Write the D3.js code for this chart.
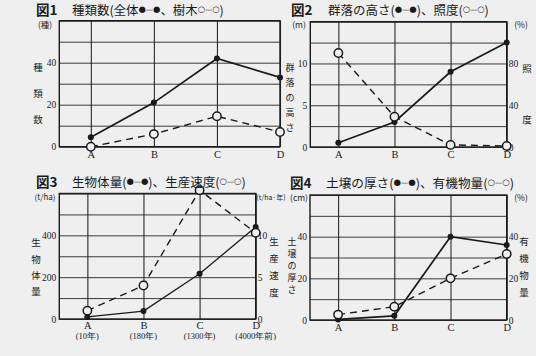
<!DOCTYPE html>
<html><head><meta charset="utf-8">
<script src="https://cdn.jsdelivr.net/npm/d3@7"></script>
<style>
html,body{margin:0;padding:0;background:#efefef;}
svg{display:block;}
</style></head>
<body><svg id="c" width="536" height="356"></svg>
<script>
// ---- data ----
const categories = ["A", "B", "C", "D"];
const fig3SubLabels = ["(10年)", "(180年)", "(1300年)", "(4000年前)"];

const fig1Total = [4.5, 21, 42, 33];
const fig1Trees = [0, 6, 14.5, 7];
const fig2Height = [0.5, 3, 9, 12.5];
const fig2Light = [90, 29, 2, 1];
const fig3Biomass = [10, 38, 216, 440];
const fig3Production = [1, 4, 15.4, 10.3];
const fig4Soil = [0.3, 2, 40, 36];
const fig4Organic = [2.6, 6.4, 20, 31.7];

const fig1Ticks = [0, 20, 40];
const fig2LeftTicks = [0, 5, 10];
const fig2RightTicks = [0, 40, 80];
const fig3LeftTicks = [0, 200, 400];
const fig3RightTicks = [0, 5, 10];
const fig4LeftTicks = [0, 20, 40];
const fig4RightTicks = [0, 20, 40];

const titles = [
  ["図1", "種類数(全体●—●、樹木○—○)"],
  ["図2", "群落の高さ(●—●)、照度(○—○)"],
  ["図3", "生物体量(●—●)、生産速度(○—○)"],
  ["図4", "土壌の厚さ(●—●)、有機物量(○—○)"]
];

// ---- drawing ----
const svg = d3.select("#c");
const JP = "'Noto Sans CJK JP', 'Noto Sans', sans-serif";
const SERIF = "'Liberation Serif', 'DejaVu Serif', serif";
const INK = "#1a1a1a";
const BG = "#efefef";

svg.append("rect").attr("width", 536).attr("height", 356).attr("fill", BG);

function panel(cfg) {
  const g = svg.append("g");
  const x = d3.scaleLinear().domain([-0.5, 3]).range([cfg.x0, cfg.x1]);
  const yL = d3.scaleLinear().domain(cfg.leftDomain).range([cfg.y1, cfg.y0]);
  const yR = cfg.rightDomain ? d3.scaleLinear().domain(cfg.rightDomain).range([cfg.y1, cfg.y0]) : yL;
  const W = cfg.x1 - cfg.x0;

  // horizontal grid
  const gridVals = d3.range(cfg.leftDomain[0], cfg.leftDomain[1] + 1e-9, (cfg.leftDomain[1] - cfg.leftDomain[0]) / 6);
  g.append("g").attr("transform", `translate(${cfg.x0},0)`)
    .call(d3.axisLeft(yL).tickValues(gridVals).tickSize(-W).tickFormat(""))
    .call(a => { a.select(".domain").remove(); a.selectAll("line").attr("stroke", "#3a3a3a").attr("stroke-width", 1); });
  // vertical grid
  g.append("g").attr("transform", `translate(0,${cfg.y1})`)
    .call(d3.axisBottom(x).tickValues([0, 1, 2, 3]).tickSize(-(cfg.y1 - cfg.y0)).tickFormat(""))
    .call(a => { a.select(".domain").remove(); a.selectAll("line").attr("stroke", "#2a2a2a").attr("stroke-width", 1.1); });
  // frame
  g.append("rect").attr("x", cfg.x0).attr("y", cfg.y0).attr("width", W).attr("height", cfg.y1 - cfg.y0)
    .attr("fill", "none").attr("stroke", INK).attr("stroke-width", 1.4);

  // left ticks
  g.append("g").attr("transform", `translate(${cfg.x0},0)`)
    .call(d3.axisLeft(yL).tickValues(cfg.leftTicks).tickSize(0).tickPadding(3))
    .call(a => { a.select(".domain").remove(); a.selectAll("text").attr("font-family", SERIF).attr("font-size", 9.5).attr("fill", INK); });
  if (cfg.rightTicks) {
    g.append("g").attr("transform", `translate(${cfg.x1},0)`)
      .call(d3.axisRight(yR).tickValues(cfg.rightTicks).tickSize(0).tickPadding(2))
      .call(a => { a.select(".domain").remove(); a.selectAll("text").attr("font-family", SERIF).attr("font-size", 9.5).attr("fill", INK); });
  }
  // category labels
  g.append("g").attr("transform", `translate(0,${cfg.y1})`)
    .call(d3.axisBottom(x).tickValues([0, 1, 2, 3]).tickSize(0).tickPadding(cfg.subLabels ? 3 : 4).tickFormat(i => categories[i]))
    .call(a => { a.select(".domain").remove(); a.selectAll("text").attr("font-family", SERIF).attr("font-size", 10.5).attr("fill", INK); });
  if (cfg.subLabels) {
    cfg.subLabels.forEach((s, i) => {
      g.append("text").attr("x", x(i)).attr("y", cfg.y1 + 20).attr("text-anchor", "middle")
        .attr("font-family", SERIF).attr("font-size", 8.5).attr("fill", INK).text(s);
    });
  }

  // open series (dashed)
  const lineO = d3.line().x((d, i) => x(i)).y(d => yR(d));
  g.append("path").datum(cfg.open).attr("d", lineO).attr("fill", "none")
    .attr("stroke", INK).attr("stroke-width", 1.4).attr("stroke-dasharray", "7,5");
  // filled series
  const lineF = d3.line().x((d, i) => x(i)).y(d => yL(d));
  g.append("path").datum(cfg.filled).attr("d", lineF).attr("fill", "none")
    .attr("stroke", INK).attr("stroke-width", cfg.fw || 1.7);
  g.selectAll(null).data(cfg.filled).enter().append("circle")
    .attr("cx", (d, i) => x(i)).attr("cy", d => yL(d)).attr("r", 3).attr("fill", INK);
  g.selectAll(null).data(cfg.open).enter().append("circle")
    .attr("cx", (d, i) => x(i)).attr("cy", d => yR(d)).attr("r", 4.2)
    .attr("fill", BG).attr("stroke", INK).attr("stroke-width", 1.5);

  // titles
  g.append("text").attr("x", cfg.tx).attr("y", cfg.ty).attr("font-family", JP).attr("font-weight", "bold")
    .attr("font-size", 13.5).attr("fill", INK).text(cfg.title[0]);
  const tt = g.append("text").attr("x", cfg.tx2).attr("y", cfg.ty).attr("font-family", JP)
    .attr("font-size", 12.5).attr("fill", INK);
  // split title into normal runs and small symbol runs (symbols raised to mid-height)
  const parts = cfg.title[1].match(/[●○—]+|[^●○—]+/g);
  const SHIFT = 3;
  let raised = false;
  parts.forEach(p => {
    if (/[●○—]/.test(p)) {
      Array.from(p).forEach(ch => {
        const ts = tt.append("tspan").attr("font-family", "'DejaVu Sans', sans-serif");
        ts.attr("dy", raised ? 0 : -SHIFT);
        raised = true;
        if (ch === "—") ts.attr("font-size", 7).text("—");
        else ts.attr("font-size", 8.5).text(ch);
      });
    } else {
      tt.append("tspan").attr("font-size", 12.5).attr("dy", raised ? SHIFT : 0).text(p);
      raised = false;
    }
  });
  const natural = tt.node().getComputedTextLength();
  tt.attr("transform", `translate(${cfg.tx2},${cfg.ty}) scale(${cfg.tlen / natural},1) translate(${-cfg.tx2},${-cfg.ty})`);

  // units
  cfg.units.forEach(u => {
    g.append("text").attr("x", u[0]).attr("y", u[1]).attr("font-family", JP).attr("font-size", u[3] || 8.5)
      .attr("fill", INK).attr("text-anchor", "middle").text(u[2]);
  });
  // vertical labels
  cfg.vlabels.forEach(v => {
    const chars = Array.from(v.text);
    chars.forEach((ch, i) => {
      const yy = v.y0 + (chars.length > 1 ? i * (v.y1 - v.y0) / (chars.length - 1) : 0);
      g.append("text").attr("x", v.x).attr("y", yy).attr("dy", "0.35em").attr("text-anchor", "middle")
        .attr("font-family", JP).attr("font-size", v.size || 9.5).attr("fill", INK).text(ch);
    });
  });
}

panel({
  x0: 59.3, x1: 280, y0: 20.7, y1: 146.7,
  leftDomain: [0, 60], leftTicks: fig1Ticks,
  filled: fig1Total, open: fig1Trees,
  title: titles[0], tx: 36, tx2: 72, ty: 15, tlen: 152,
  units: [[45, 28, "(種)"]],
  vlabels: [{ text: "種類数", x: 38, y0: 68, y1: 120 }]
});
panel({
  x0: 310.3, x1: 506.7, y0: 21.7, y1: 147,
  leftDomain: [0, 15], rightDomain: [0, 120], leftTicks: fig2LeftTicks, rightTicks: fig2RightTicks,
  filled: fig2Height, open: fig2Light,
  title: titles[1], tx: 291, tx2: 328, ty: 15, tlen: 161,
  units: [[299, 28, "(m)"], [521, 28, "(%)"]],
  vlabels: [{ text: "群落の高さ", x: 290, y0: 68, y1: 128, size: 9 }, { text: "照", x: 527, y0: 69, y1: 69 }, { text: "度", x: 527, y0: 120, y1: 120 }]
});
panel({
  x0: 59.3, x1: 255.7, y0: 193.5, y1: 319,
  leftDomain: [0, 600], rightDomain: [0, 15], leftTicks: fig3LeftTicks, rightTicks: fig3RightTicks,
  filled: fig3Biomass, open: fig3Production, fw: 1.3,
  subLabels: fig3SubLabels,
  title: titles[2], tx: 36, tx2: 72, ty: 187, tlen: 174,
  units: [[45, 200, "(t/ha)", 8], [271, 200, "(t/ha·年)", 7]],
  vlabels: [{ text: "生物体量", x: 36, y0: 243, y1: 292 }, { text: "生産速度", x: 274, y0: 242, y1: 293 }]
});
panel({
  x0: 310, x1: 506.7, y0: 195, y1: 320,
  leftDomain: [0, 60], rightDomain: [0, 60], leftTicks: fig4LeftTicks, rightTicks: fig4RightTicks,
  filled: fig4Soil, open: fig4Organic,
  title: titles[3], tx: 290, tx2: 326, ty: 188, tlen: 188,
  units: [[299, 201, "(cm)"], [521, 201, "(%)"]],
  vlabels: [{ text: "土壌の厚さ", x: 292, y0: 242, y1: 290, size: 9 }, { text: "有機物量", x: 524, y0: 242, y1: 293 }]
});
</script></body></html>
